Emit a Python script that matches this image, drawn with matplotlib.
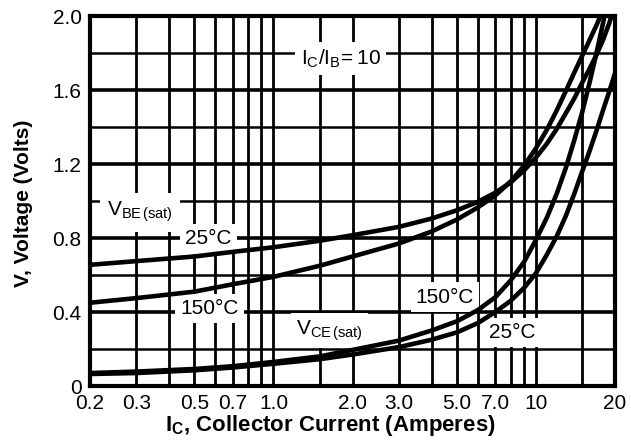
import matplotlib
matplotlib.use("Agg")
import matplotlib.pyplot as plt
import matplotlib.ticker as mticker

plt.rcParams['font.family'] = ['Liberation Sans', 'DejaVu Sans']
plt.rcParams['mathtext.fontset'] = 'custom'
plt.rcParams['mathtext.rm'] = 'Liberation Sans'
plt.rcParams['mathtext.it'] = 'Liberation Sans'
plt.rcParams['mathtext.bf'] = 'Liberation Sans:bold'

# ---- data ----
vbe25_i = [0.2, 0.3, 0.5, 0.7, 1.0, 1.5, 2.0, 3.0, 4.0, 5.0, 6.0, 7.0, 8.0, 9.0, 10.0,
           11.0, 12.0, 13.0, 14.0, 15.0, 16.0, 17.0, 18.0, 19.0, 19.4]
vbe25_v = [0.655, 0.675, 0.70, 0.725, 0.75, 0.785, 0.815, 0.86, 0.905, 0.95, 0.995, 1.045, 1.10, 1.165, 1.235,
           1.31, 1.39, 1.475, 1.555, 1.64, 1.715, 1.79, 1.87, 1.96, 2.0]

vbe150_i = [0.2, 0.3, 0.5, 0.7, 1.0, 1.5, 2.0, 3.0, 4.0, 5.0, 6.0, 7.0, 8.0, 9.0, 10.0,
            11.0, 12.0, 13.0, 14.0, 15.0, 16.0, 17.0, 17.6]
vbe150_v = [0.45, 0.475, 0.51, 0.55, 0.59, 0.65, 0.70, 0.77, 0.835, 0.90, 0.965, 1.03, 1.105, 1.19, 1.285,
            1.385, 1.49, 1.595, 1.695, 1.785, 1.87, 1.95, 2.0]

vce25_i = [0.2, 0.3, 0.5, 0.7, 1.0, 1.5, 2.0, 3.0, 4.0, 5.0, 6.0, 7.0, 8.0, 9.0, 10.0,
           11.0, 12.0, 13.0, 14.0, 15.0, 16.0, 17.0, 18.0, 19.0, 20.0]
vce25_v = [0.065, 0.07, 0.085, 0.10, 0.12, 0.145, 0.17, 0.21, 0.25, 0.29, 0.34, 0.40, 0.46, 0.53, 0.61,
           0.71, 0.81, 0.92, 1.04, 1.16, 1.27, 1.38, 1.49, 1.59, 1.69]

vce150_i = [0.2, 0.3, 0.5, 0.7, 1.0, 1.5, 2.0, 3.0, 4.0, 5.0, 6.0, 7.0, 8.0, 9.0, 10.0,
            11.0, 12.0, 13.0, 14.0, 15.0, 16.0, 17.0, 18.0, 18.25]
vce150_v = [0.07, 0.078, 0.092, 0.107, 0.13, 0.16, 0.195, 0.245, 0.30, 0.35, 0.41, 0.48, 0.57, 0.67, 0.79,
            0.91, 1.04, 1.18, 1.33, 1.48, 1.64, 1.80, 1.96, 2.0]

x_ticks = [0.2, 0.3, 0.5, 0.7, 1.0, 2.0, 3.0, 5.0, 7.0, 10, 20]
x_tick_labels = ['0.2', '0.3', '0.5', '0.7', '1.0', '2.0', '3.0', '5.0', '7.0', '10', '20']
x_grid = [0.3, 0.4, 0.5, 0.6, 0.7, 0.8, 0.9, 1.0, 1.5, 2, 3, 4, 5, 6, 7, 8, 9, 10, 15]
y_ticks = [0, 0.4, 0.8, 1.2, 1.6, 2.0]
y_tick_labels = ['0', '0.4', '0.8', '1.2', '1.6', '2.0']
y_grid_minor = [0.2, 0.6, 1.0, 1.4, 1.8]

fig = plt.figure(figsize=(6.31, 4.41), dpi=100)
ax = fig.add_axes([90/631, 1-386/441, 525/631, 370/441])
ax.set_xscale('log')
ax.set_xlim(0.2, 20)
ax.set_ylim(0, 2.0)

for xv in x_grid:
    ax.axvline(xv, color='black', lw=2.0, zorder=1)
for yv in y_ticks[1:-1]:
    ax.axhline(yv, color='black', lw=2.6, zorder=1)
for yv in y_grid_minor:
    ax.axhline(yv, color='black', lw=1.8, zorder=1)

ax.set_xticks(x_ticks)
ax.set_xticklabels(x_tick_labels)
ax.xaxis.set_minor_locator(mticker.NullLocator())
ax.set_yticks(y_ticks)
ax.set_yticklabels(y_tick_labels)
ax.tick_params(axis='both', length=0, labelsize=15, colors='black')
ax.tick_params(axis='x', pad=6)
ax.tick_params(axis='y', pad=6)
for sp in ax.spines.values():
    sp.set_linewidth(3.0)
    sp.set_zorder(6)

box = dict(boxstyle='square,pad=0.25', fc='white', ec='none')
tk = dict(fontsize=15, color='black', zorder=3, bbox=box, ha='center', va='center')

ax.text(1.8, 1.77, r'$\mathregular{I_C/I_B\!=10}$', **tk)
ax.text(0.31, 0.94, r'$\mathregular{V_{BE\,(sat)}}$', fontsize=15, color='black', zorder=3,
        ha='center', va='center', bbox=dict(boxstyle='square,pad=0.35', fc='white', ec='none'))
ax.text(0.565, 0.795, '25°C', **tk)
ax.text(0.57, 0.42, '150°C', **tk)
ax.text(1.64, 0.30, r'$\mathregular{V_{CE\,(sat)}}$', **tk)
ax.text(4.5, 0.48, '150°C', **tk)
ax.text(8.1, 0.29, '25°C', **tk)

lw = 3.3
for xs, ys in [(vbe25_i, vbe25_v), (vbe150_i, vbe150_v), (vce25_i, vce25_v), (vce150_i, vce150_v)]:
    ax.plot(xs, ys, color='black', lw=lw, zorder=4, solid_capstyle='butt', solid_joinstyle='round')

fig.text(330/631, 1-425/441, r'$\mathbf{I_C}$, Collector Current (Amperes)', fontsize=16,
         fontweight='bold', ha='center', va='center')
fig.text(24/631, 1-203/441, 'V, Voltage (Volts)', fontsize=15, fontweight='bold',
         rotation=90, ha='center', va='center')

fig.savefig('out.png', dpi=100)
